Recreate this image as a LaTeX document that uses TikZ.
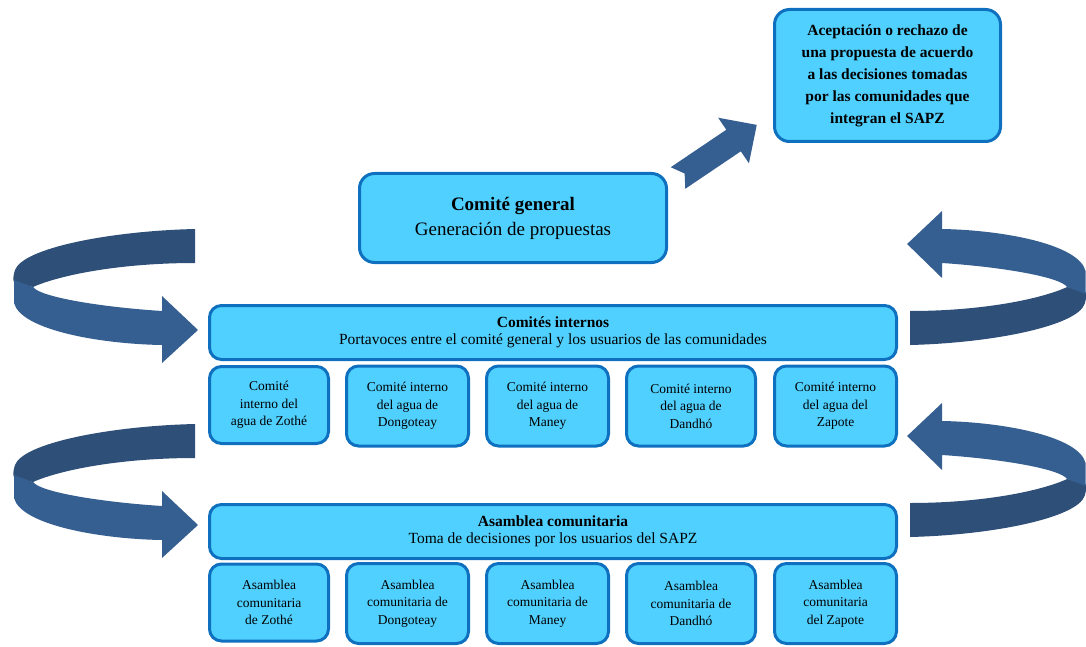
\documentclass[tikz,border=0pt]{standalone}
\usepackage{fontspec}
\setmainfont{Liberation Serif}
\definecolor{boxfill}{RGB}{80,208,255}
\definecolor{boxline}{RGB}{14,112,190}
\definecolor{arrdark}{RGB}{46,79,120}
\definecolor{arrlight}{RGB}{54,95,145}
\tikzset{
  box/.style={draw=boxline, line width=3pt, fill=boxfill, rounded corners=15pt,
    align=center, inner sep=0pt, text=black},
  bigbox/.style={box, rounded corners=12pt, minimum width=687pt, minimum height=54pt,
    font=\fontsize{15.5}{17}\selectfont},
  smallbox/.style={box, rounded corners=12pt, minimum height=77pt,
    font=\fontsize{13.5}{17.5}\selectfont},
  ribbon/.pic={
    \fill[arrdark] (0,-17) .. controls (-85,-15) and (-172,2) .. (-180,24)
      .. controls (-182,30) and (-182,34) .. (-181,36) -- (-162,41)
      .. controls (-135,29) and (-75,17) .. (0,17) -- cycle;
    \fill[arrlight] (-181,34) -- (-181,57) .. controls (-174,84) and (-95,98) .. (-33,99)
      -- (-33,117) -- (3,84) -- (-33,50) -- (-33,65)
      .. controls (-95,61) and (-155,51) .. (-162,41) -- cycle;
  }
}
\begin{document}
\begin{tikzpicture}[x=1pt,y=-1pt]
\useasboundingbox (0,0) rectangle (1086,647);

% ribbon arrows
\pic at (195,246) {ribbon};
\pic at (195,441) {ribbon};
\pic[rotate=180, xscale=0.97] at (910,328) {ribbon};
\pic[rotate=180, xscale=0.97] at (910,520) {ribbon};

% top boxes
\node[box, minimum width=226pt, minimum height=132pt,
  font=\fontsize{15.5}{22}\selectfont\bfseries] (acc) at (887.5,75.5)
  {Aceptación o rechazo de\\una propuesta de acuerdo\\a las decisiones tomadas\\por las comunidades que\\integran el SAPZ};
\node[box, minimum width=307pt, minimum height=89pt,
  font=\fontsize{19}{25}\selectfont] (gen) at (513,218)
  {\textbf{Comité general}\\Generación de propuestas};

% diagonal block arrow
\begin{scope}[shift={(678,178)}, rotate=34]
  \fill[arrlight] (0,-13) -- (67,-13) -- (67,-27.5) -- (95,0) -- (67,27.5)
    -- (67,13) -- (0,13) -- (8,0) -- cycle;
\end{scope}

% comites internos
\node[bigbox] (ci) at (553,332.5)
  {\textbf{Comités internos}\\Portavoces entre el comité general y los usuarios de las comunidades};
\node[smallbox, minimum width=119pt] (c1) at (269,405) {Comité\\interno del\\agua de Zothé};
\node[smallbox, minimum width=122pt, minimum height=80pt] (c2) at (407.5,406) {Comité interno\\del agua de\\Dongoteay};
\node[smallbox, minimum width=122pt, minimum height=80pt] (c3) at (547.5,406) {Comité interno\\del agua de\\Maney};
\node[smallbox, minimum width=129pt, minimum height=80pt] (c4) at (691,406) {Comité interno\\del agua de\\Dandhó};
\node[smallbox, minimum width=122pt, minimum height=80pt] (c5) at (835.5,406) {Comité interno\\del agua del\\Zapote};

% asamblea comunitaria
\node[bigbox] (ac) at (553,531.5)
  {\textbf{Asamblea comunitaria}\\Toma de decisiones por los usuarios del SAPZ};
\node[smallbox, minimum width=119pt] (a1) at (269,602.5) {Asamblea\\comunitaria\\de Zothé};
\node[smallbox, minimum width=122pt, minimum height=80pt] (a2) at (407.5,603.5) {Asamblea\\comunitaria de\\Dongoteay};
\node[smallbox, minimum width=122pt, minimum height=80pt] (a3) at (547.5,603.5) {Asamblea\\comunitaria de\\Maney};
\node[smallbox, minimum width=129pt, minimum height=80pt] (a4) at (691,603.5) {Asamblea\\comunitaria de\\Dandhó};
\node[smallbox, minimum width=122pt, minimum height=80pt] (a5) at (835.5,603.5) {Asamblea\\comunitaria\\del Zapote};
\end{tikzpicture}
\end{document}
